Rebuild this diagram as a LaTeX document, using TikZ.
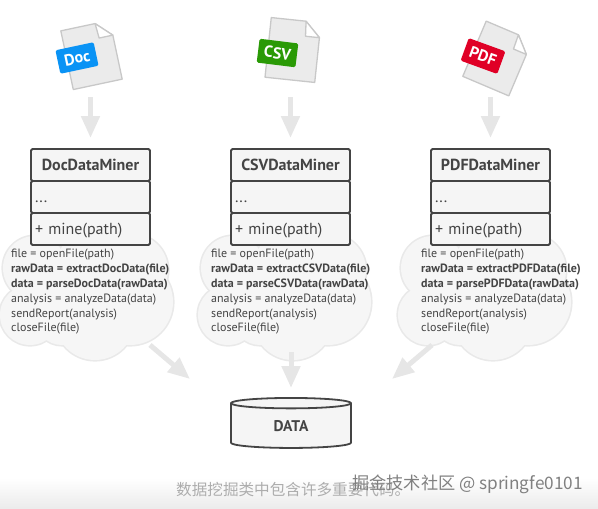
\documentclass[tikz,border=0pt]{standalone}
\usepackage{fontspec}
\setmainfont{PT Sans}
\newfontfamily\cjkfont{Noto Sans CJK SC}
\usetikzlibrary{arrows.meta, positioning, shapes.geometric}
\definecolor{inkgray}{HTML}{444444}
\definecolor{boxfill}{HTML}{F5F5F5}
\definecolor{cloudfill}{HTML}{F6F6F6}
\definecolor{cloudedge}{HTML}{E9E9E9}
\definecolor{arrowgray}{HTML}{E6E6E6}
\definecolor{pagefill}{HTML}{EBEBEB}
\definecolor{paperfill}{HTML}{EBEBEB}
\definecolor{paperedge}{HTML}{C8C8C8}
\definecolor{docblue}{HTML}{0A93F5}
\definecolor{csvgreen}{HTML}{2A9A06}
\definecolor{pdfred}{HTML}{E00026}
\tikzset{
  compartment/.style={draw=inkgray, line width=1.8pt, fill=boxfill, rounded corners=1.5pt, minimum width=119pt, minimum height=32pt, outer sep=0pt, inner sep=0pt, text=inkgray, text height=13pt, text depth=2pt},
  badge/.style={rounded corners=1.5pt, minimum width=39pt, minimum height=24pt, inner sep=0pt, text=white, font=\fontsize{16}{16}\selectfont\bfseries},
  codetext/.style={anchor=north west, inner sep=0pt, align=left, text=inkgray, font=\fontsize{12}{14.85}\selectfont},
  store/.style={draw=inkgray, line width=1.8pt, cylinder, shape border rotate=90, aspect=0.3, cylinder uses custom fill, cylinder body fill=boxfill, cylinder end fill=boxfill, minimum width=120pt, minimum height=50pt, inner sep=0pt, outer sep=0pt, text=inkgray, font=\fontsize{15.5}{15.5}\selectfont\bfseries},
  flow/.style={draw=arrowgray, line width=5pt, -{Triangle[width=18pt, length=22pt]}}
}
% file icon: x, y, angle, colour, label, name, badge x, badge y, badge angle
\newcommand{\paperfile}[9]{%
  \begin{scope}[shift={(#1,#2)}, rotate=#3]
    \coordinate (#6) at (0,0);
    \draw[paperedge, fill=paperfill, line width=1.3pt, line join=round] (-25,-30) -- (10,-30) -- (25,-15) -- (25,30) -- (-25,30) -- cycle;
    \draw[paperedge, fill=white, line width=1.3pt, line join=round] (10,-30) -- (11,-15) -- (25,-15) -- cycle;
  \end{scope}
  \node[badge, fill=#4, rotate=#9] (#6badge) at (#7,#8) {#5};
}
% cloud behind the code, #1 = x offset
\newcommand{\codecloud}[1]{%
  \begin{scope}[shift={(#1,0)}]
    \foreach \cx/\cy/\cr in {35/268/32, 90/262/32, 132/270/36, 130/302/43, 30/315/30, 62/318/27, 95/320/40} {
      \draw[cloudedge, line width=3.2pt] (\cx,\cy) circle (\cr);
    }
    \foreach \cx/\cy/\cr in {35/268/32, 90/262/32, 132/270/36, 130/302/43, 30/315/30, 62/318/27, 95/320/40, 80/295/50} {
      \fill[cloudfill] (\cx,\cy) circle (\cr);
    }
  \end{scope}
}
% class box: x of the left edge, prefix, name
\newcommand{\minerbox}[3]{%
  \node[compartment, font=\fontsize{16}{16}\selectfont\bfseries, anchor=north west] (#3) at (#1,149) {#2DataMiner};
  \node[compartment, below=0pt of #3, text width=111pt, align=left, font=\fontsize{16}{16}\selectfont] (#3attrs) {...};
  \node[compartment, below=0pt of #3attrs, text width=111pt, align=left, font=\fontsize{16}{16}\selectfont] (#3ops) {+ mine(path)};
}
% template method text
\newcommand{\minecode}[3]{%
  \node[codetext] (#3) at (#1,249) {file = openFile(path)\\
    \textbf{rawData = extract#2Data(file)}\\
    \textbf{data = parse#2Data(rawData)}\\
    analysis = analyzeData(data)\\
    sendReport(analysis)\\
    closeFile(file)};
}

\begin{document}
\begin{tikzpicture}[x=1pt, y=-1pt]
  \useasboundingbox (0,0) rectangle (598,509);

  % Bottom fade
  \shade[top color=white, bottom color=pagefill, draw=none] (0,478) rectangle (598,509);

  % Clouds
  \codecloud{0}
  \codecloud{198}
  \codecloud{398}

  % Files
  \paperfile{91.5}{55}{12}{docblue}{Doc}{docfile}{77}{58}{12}
  \paperfile{293}{50}{-6}{csvgreen}{CSV}{csvfile}{277.5}{53}{-7}
  \paperfile{497.5}{58.5}{-23}{pdfred}{PDF}{pdffile}{483}{56}{-20}

  % Classes
  \minerbox{31}{Doc}{docminer}
  \minerbox{231}{CSV}{csvminer}
  \minerbox{431}{PDF}{pdfminer}

  % Code
  \minecode{11}{Doc}{doccode}
  \minecode{211}{CSV}{csvcode}
  \minecode{421}{PDF}{pdfcode}

  % Storage
  \node[store] (data) at (291,426) {DATA};

  % Cloud ends of the arrows
  \coordinate (docout) at (150,345);
  \coordinate (docin) at (190,379);
  \coordinate (csvout) at (291,352);
  \coordinate (csvin) at (291,388);
  \coordinate (pdfout) at (432,345);
  \coordinate (pdfin) at (392,379);

  % Links
  \draw[flow, shorten <=42pt, shorten >=11pt] (docfile-|docminer.north) -- (docminer.north);
  \draw[flow, shorten <=47pt, shorten >=11pt] (csvfile-|csvminer.north) -- (csvminer.north);
  \draw[flow, shorten <=38pt, shorten >=11pt] (pdffile-|pdfminer.north) -- (pdfminer.north);
  \draw[flow] (docout) -- (docin);
  \draw[flow] (csvout) -- (csvin);
  \draw[flow] (pdfout) -- (pdfin);

  % Caption
  \node[anchor=west, inner sep=0pt, text=black!32, font=\fontsize{15.6}{16}\cjkfont] (caption) at (176,490) {数据挖掘类中包含许多重要代码。};
  \node[anchor=west, inner sep=0pt, text=black!50, font=\fontsize{17.2}{17}\cjkfont] (mark) at (352,484) {掘金技术社区 @ springfe0101};
\end{tikzpicture}
\end{document}
